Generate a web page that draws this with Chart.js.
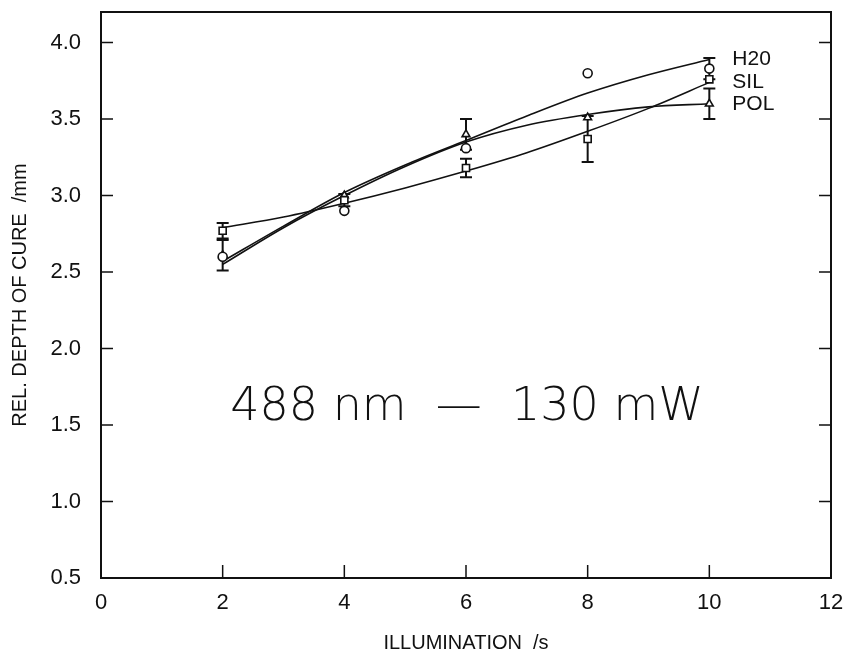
<!DOCTYPE html>
<html>
<head>
<meta charset="utf-8">
<script src="https://cdn.jsdelivr.net/npm/chart.js@4.4.0/dist/chart.umd.min.js"></script>
<style>
  html, body { margin: 0; padding: 0; background: #fff; }
  #wrap { width: 852px; height: 659px; }
</style>
</head>
<body>
<div id="wrap"><canvas id="cure"></canvas></div>
<script>
// measured points
const times = [2, 4, 6, 8, 10];
const h2oValues = [2.60, 2.90, 3.31, 3.80, 3.83];
const silValues = [2.77, 2.97, 3.18, 3.37, 3.76];
const polValues = [2.61, 3.00, 3.40, 3.51, 3.60];
// half error bars (null = none drawn)
const h2oErr = [null, null, null, null, 0.07];
const silErr = [0.05, 0.04, 0.06, 0.15, null];
const polErr = [0.10, null, 0.10, null, 0.10];

// fitted curves
const fitTimes = [2, 3, 4, 5, 6, 7, 8, 9, 10];
const h2oFit = [2.57, 2.80, 3.02, 3.20, 3.36, 3.52, 3.67, 3.79, 3.89];
const silFit = [2.79, 2.86, 2.95, 3.05, 3.16, 3.28, 3.42, 3.57, 3.74];
const polFit = [2.55, 2.79, 3.00, 3.19, 3.35, 3.46, 3.53, 3.58, 3.60];

const xTicks = [0, 2, 4, 6, 8, 10, 12];
const yTicks = [0.5, 1.0, 1.5, 2.0, 2.5, 3.0, 3.5, 4.0];

const seriesNames = ['H20', 'SIL', 'POL'];
const labelValues = [3.89, 3.74, 3.60];

const FONT = '"Liberation Sans", Arial, sans-serif';

function pts(xs, ys) {
    return xs.map((x, i) => ({ x: x, y: ys[i] }));
}

function curve(ys) {
    return {
        type: 'line',
        data: pts(fitTimes, ys),
        borderColor: '#111',
        borderWidth: 1.6,
        pointRadius: 0,
        tension: 0.4,
        cubicInterpolationMode: 'monotone',
        fill: false,
        order: 3
    };
}

function marks(ys, style, err) {
    return {
        type: 'scatter',
        data: pts(times, ys),
        err: err,
        pointStyle: style,
        pointRadius: style === 'rect' ? 5 : 4.5,
        borderColor: '#111',
        backgroundColor: '#fff',
        borderWidth: 1.6,
        order: 1
    };
}

// error bars, ticks, frame and texts
const extras = {
    id: 'extras',
    beforeDatasetsDraw(chart) {
        const c = chart.ctx, xs = chart.scales.x, ys = chart.scales.y;
        c.save();
        c.strokeStyle = '#111';
        c.lineWidth = 2;
        chart.data.datasets.forEach(ds => {
            if (!ds.err) return;
            ds.data.forEach((p, i) => {
                const e = ds.err[i];
                if (e == null) return;
                const px = xs.getPixelForValue(p.x);
                const lo = ys.getPixelForValue(p.y - e);
                const hi = ys.getPixelForValue(p.y + e);
                c.beginPath();
                c.moveTo(px, lo); c.lineTo(px, hi);
                c.moveTo(px - 6, lo); c.lineTo(px + 6, lo);
                c.moveTo(px - 6, hi); c.lineTo(px + 6, hi);
                c.stroke();
            });
        });
        c.restore();
    },
    afterDraw(chart) {
        const c = chart.ctx, a = chart.chartArea;
        const xs = chart.scales.x, ys = chart.scales.y;
        c.save();
        c.strokeStyle = '#111';
        c.lineWidth = 2;
        c.strokeRect(a.left, a.top, a.right - a.left, a.bottom - a.top);
        c.lineWidth = 1.5;
        c.beginPath();
        yTicks.forEach(v => {
            const py = ys.getPixelForValue(v);
            c.moveTo(a.left, py); c.lineTo(a.left + 12, py);
            c.moveTo(a.right, py); c.lineTo(a.right - 12, py);
        });
        xTicks.forEach(v => {
            const px = xs.getPixelForValue(v);
            c.moveTo(px, a.bottom); c.lineTo(px, a.bottom - 13);
        });
        c.stroke();

        c.fillStyle = '#111';
        c.font = '21px ' + FONT;
        c.textAlign = 'left';
        c.textBaseline = 'middle';
        seriesNames.forEach((n, i) => {
            c.fillText(n, xs.getPixelForValue(10) + 23, ys.getPixelForValue(labelValues[i]));
        });

        c.font = '200 46px "DejaVu Sans", ' + FONT;
        c.textAlign = 'center';
        c.fillText('488 nm  \u2014  130 mW', 467, 408);
        c.restore();
    }
};

const cureChart = new Chart(document.getElementById('cure'), {
    data: {
        datasets: [
            curve(h2oFit), curve(silFit), curve(polFit),
            marks(h2oValues, 'circle', h2oErr),
            marks(silValues, 'rect', silErr),
            marks(polValues, 'triangle', polErr)
        ]
    },
    options: {
        responsive: true,
        maintainAspectRatio: false,
        animation: false,
        layout: { padding: { top: 12, right: 21, left: 0, bottom: 0 } },
        plugins: { legend: { display: false }, tooltip: { enabled: false } },
        scales: {
            x: {
                type: 'linear',
                min: 0, max: 12,
                afterBuildTicks: s => { s.ticks = xTicks.map(v => ({ value: v })); },
                afterFit: s => { s.height = 81; s.paddingLeft = 0; s.paddingRight = 0; },
                grid: { display: false },
                border: { display: false },
                ticks: { color: '#111', font: { family: FONT, size: 22 }, padding: 4 },
                title: {
                    display: true, text: 'ILLUMINATION  /s', color: '#111',
                    font: { family: FONT, size: 20 }, padding: { top: 12 }
                }
            },
            y: {
                type: 'linear',
                min: 0.5, max: 4.2,
                afterBuildTicks: s => { s.ticks = yTicks.map(v => ({ value: v })); },
                afterFit: s => { s.width = 101; s.paddingTop = 0; s.paddingBottom = 0; },
                grid: { display: false },
                border: { display: false },
                ticks: {
                    color: '#111', font: { family: FONT, size: 22 }, padding: 12,
                    callback: v => v.toFixed(1)
                },
                title: {
                    display: true, text: 'REL. DEPTH OF CURE  /mm', color: '#111',
                    font: { family: FONT, size: 20 }, padding: { top: 8, bottom: 0 }
                }
            }
        }
    },
    plugins: [extras]
});
</script>
</body>
</html>
